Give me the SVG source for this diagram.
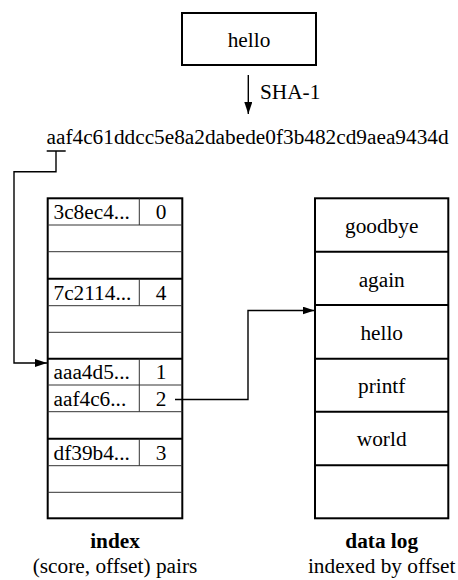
<svg xmlns="http://www.w3.org/2000/svg" width="458" height="580" viewBox="0 0 458 580" font-family="'Liberation Serif', 'Times New Roman', 'DejaVu Serif', serif">
<style>
text{font-family:'Liberation Serif','Times New Roman','DejaVu Serif',serif;font-size:21.3px;fill:#000}
.c{text-anchor:middle}
.b{font-weight:bold}
.box{fill:#fff;stroke:#000;stroke-width:2}
.thick{stroke:#000;stroke-width:2}
.thin{stroke:#333;stroke-width:1}
.conn{fill:none;stroke:#000;stroke-width:1.4}
</style>
<defs>
<marker id="ah" markerUnits="userSpaceOnUse" markerWidth="12" markerHeight="8" refX="12" refY="4" orient="auto">
<path d="M0,0 L12,4 L0,8 z" fill="#000"/>
</marker>
</defs>
<g id="input">
<rect class="box" x="182" y="13" width="134" height="52"/>
<text class="c" x="249" y="46.7">hello</text>
</g>
<g id="hash">
<text x="46.5" y="143.5">aaf4c61ddcc5e8a2dabede0f3b482cd9aea9434d</text>
</g>
<g id="index">
<rect class="box" x="47.7" y="198.3" width="134.6" height="320"/>
<line class="thin" x1="47.7" y1="225" x2="182.3" y2="225"/>
<line class="thin" x1="47.7" y1="251.7" x2="182.3" y2="251.7"/>
<line class="thick" x1="47.7" y1="278.7" x2="182.3" y2="278.7"/>
<line class="thin" x1="47.7" y1="305.7" x2="182.3" y2="305.7"/>
<line class="thin" x1="47.7" y1="332.3" x2="182.3" y2="332.3"/>
<line class="thick" x1="47.7" y1="358.7" x2="182.3" y2="358.7"/>
<line class="thin" x1="47.7" y1="385" x2="182.3" y2="385"/>
<line class="thin" x1="47.7" y1="411.7" x2="182.3" y2="411.7"/>
<line class="thick" x1="47.7" y1="438.7" x2="182.3" y2="438.7"/>
<line class="thin" x1="47.7" y1="465.7" x2="182.3" y2="465.7"/>
<line class="thin" x1="47.7" y1="492.3" x2="182.3" y2="492.3"/>
<line class="thin" x1="139.3" y1="198.3" x2="139.3" y2="225"/>
<line class="thin" x1="139.3" y1="278.7" x2="139.3" y2="305.7"/>
<line class="thin" x1="139.3" y1="358.7" x2="139.3" y2="411.7"/>
<line class="thin" x1="139.3" y1="438.7" x2="139.3" y2="465.7"/>
<text x="53.5" y="219.3">3c8ec4...</text><text class="c" x="161" y="219.3">0</text>
<text x="53.5" y="299.5">7c2114...</text><text class="c" x="161" y="299.5">4</text>
<text x="53.5" y="379.3">aaa4d5...</text><text class="c" x="161" y="379.3">1</text>
<text x="53.5" y="405.8">aaf4c6...</text><text class="c" x="161" y="405.8">2</text>
<text x="53.5" y="459.5">df39b4...</text><text class="c" x="161" y="459.5">3</text>
<text class="c b" x="115" y="548">index</text>
<text class="c" x="115" y="572.5">(score, offset) pairs</text>
</g>
<g id="datalog">
<rect class="box" x="315" y="198.3" width="133.3" height="320"/>
<line class="thick" x1="315" y1="251.7" x2="448.3" y2="251.7"/>
<line class="thick" x1="315" y1="305" x2="448.3" y2="305"/>
<line class="thick" x1="315" y1="358.7" x2="448.3" y2="358.7"/>
<line class="thick" x1="315" y1="411.7" x2="448.3" y2="411.7"/>
<line class="thick" x1="315" y1="465.3" x2="448.3" y2="465.3"/>
<text class="c" x="381.7" y="232.5">goodbye</text>
<text class="c" x="381.7" y="286.5">again</text>
<text class="c" x="381.7" y="339.5">hello</text>
<text class="c" x="381.7" y="392.5">printf</text>
<text class="c" x="381.7" y="446">world</text>
<text class="c b" x="381.7" y="548">data log</text>
<text class="c" x="381.7" y="572.5">indexed by offset</text>
</g>
<g id="connectors">
<line class="conn" x1="248.3" y1="75" x2="248.3" y2="114" marker-end="url(#ah)"/>
<text x="260" y="99">SHA-1</text>
<path class="conn" d="M46.7,151 H65.7 M56,151 V171.7 H14 V363 H47" marker-end="url(#ah)"/>
<path class="conn" d="M175,399.5 H248 V310.5 H314.5" marker-end="url(#ah)"/>
</g>
</svg>
